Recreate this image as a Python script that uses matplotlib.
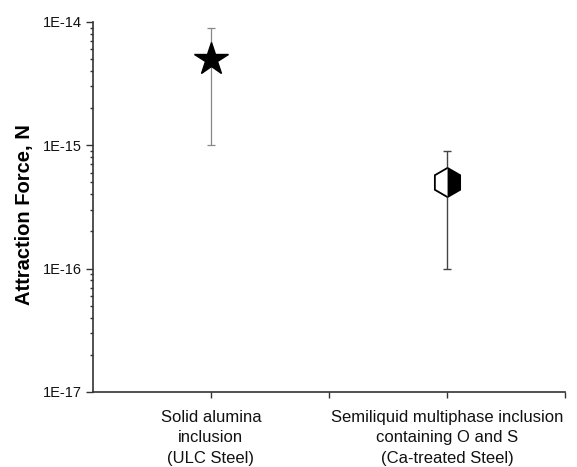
import matplotlib
matplotlib.use("Agg")
import matplotlib.pyplot as plt
from matplotlib.ticker import LogLocator, NullFormatter, FixedLocator

plt.rcParams['font.family'] = ['Liberation Sans', 'DejaVu Sans']

# data
posicoes = [1, 3]
forca = [5e-15, 5e-16]
erro_sup = [9e-15, 9e-16]
erro_inf = [1e-15, 1e-16]
rotulos = ['Solid alumina\ninclusion\n(ULC Steel)',
           'Semiliquid multiphase inclusion\ncontaining O and S\n(Ca-treated Steel)']
yticks = [1e-17, 1e-16, 1e-15, 1e-14]
ytick_labels = ['1E-17', '1E-16', '1E-15', '1E-14']

fig = plt.figure(figsize=(5.77, 4.67), dpi=100)
ax = fig.add_axes([0.161, 0.161, 0.818, 0.792])

# estrela (alumina)
ax.errorbar(posicoes[0], forca[0],
            yerr=[[forca[0] - erro_inf[0]], [erro_sup[0] - forca[0]]],
            fmt='none', ecolor='#888888', elinewidth=0.9, capsize=3, capthick=0.9, zorder=1)
ax.plot(posicoes[0], forca[0], marker='*', markersize=25, color='black',
        markeredgecolor='black', linestyle='none', zorder=3)

# hexagono meio preenchido
ax.errorbar(posicoes[1], forca[1],
            yerr=[[forca[1] - erro_inf[1]], [erro_sup[1] - forca[1]]],
            fmt='none', ecolor='#444444', elinewidth=1.0, capsize=3, capthick=1.0, zorder=1)
ax.plot(posicoes[1], forca[1], marker='h', markersize=21, fillstyle='right',
        markerfacecolor='black', markerfacecoloralt='white', markeredgecolor='black',
        markeredgewidth=1.3, linestyle='none', zorder=3)

ax.set_yscale('log')
ax.set_ylim(1e-17, 1e-14)
ax.set_xlim(0, 4)
ax.set_yticks(yticks)
ax.set_yticklabels(ytick_labels)
ax.yaxis.set_minor_locator(LogLocator(base=10, subs=range(2, 10)))
ax.yaxis.set_minor_formatter(NullFormatter())

ax.set_xticks(posicoes)
ax.set_xticklabels(rotulos, fontsize=12, linespacing=1.45)
ax.xaxis.set_minor_locator(FixedLocator([2, 4]))

ax.tick_params(axis='y', which='major', direction='out', length=5, width=1, labelsize=10.5,
               colors='#333333', pad=3)
ax.tick_params(axis='y', which='minor', direction='out', length=2.5, width=1, colors='#333333')
ax.tick_params(axis='x', which='both', direction='out', length=4, width=1, colors='#333333', pad=9)
for lbl in ax.get_yticklabels() + ax.get_xticklabels():
    lbl.set_color('#111111')

for s in ['top', 'right']:
    ax.spines[s].set_visible(False)
for s in ['left', 'bottom']:
    ax.spines[s].set_color('#333333')
    ax.spines[s].set_linewidth(1.2)

ax.set_ylabel('Attraction Force, N', fontsize=14.5, fontweight='bold')
ax.yaxis.set_label_coords(-0.125, 0.48)

fig.savefig('out.png', dpi=100)
